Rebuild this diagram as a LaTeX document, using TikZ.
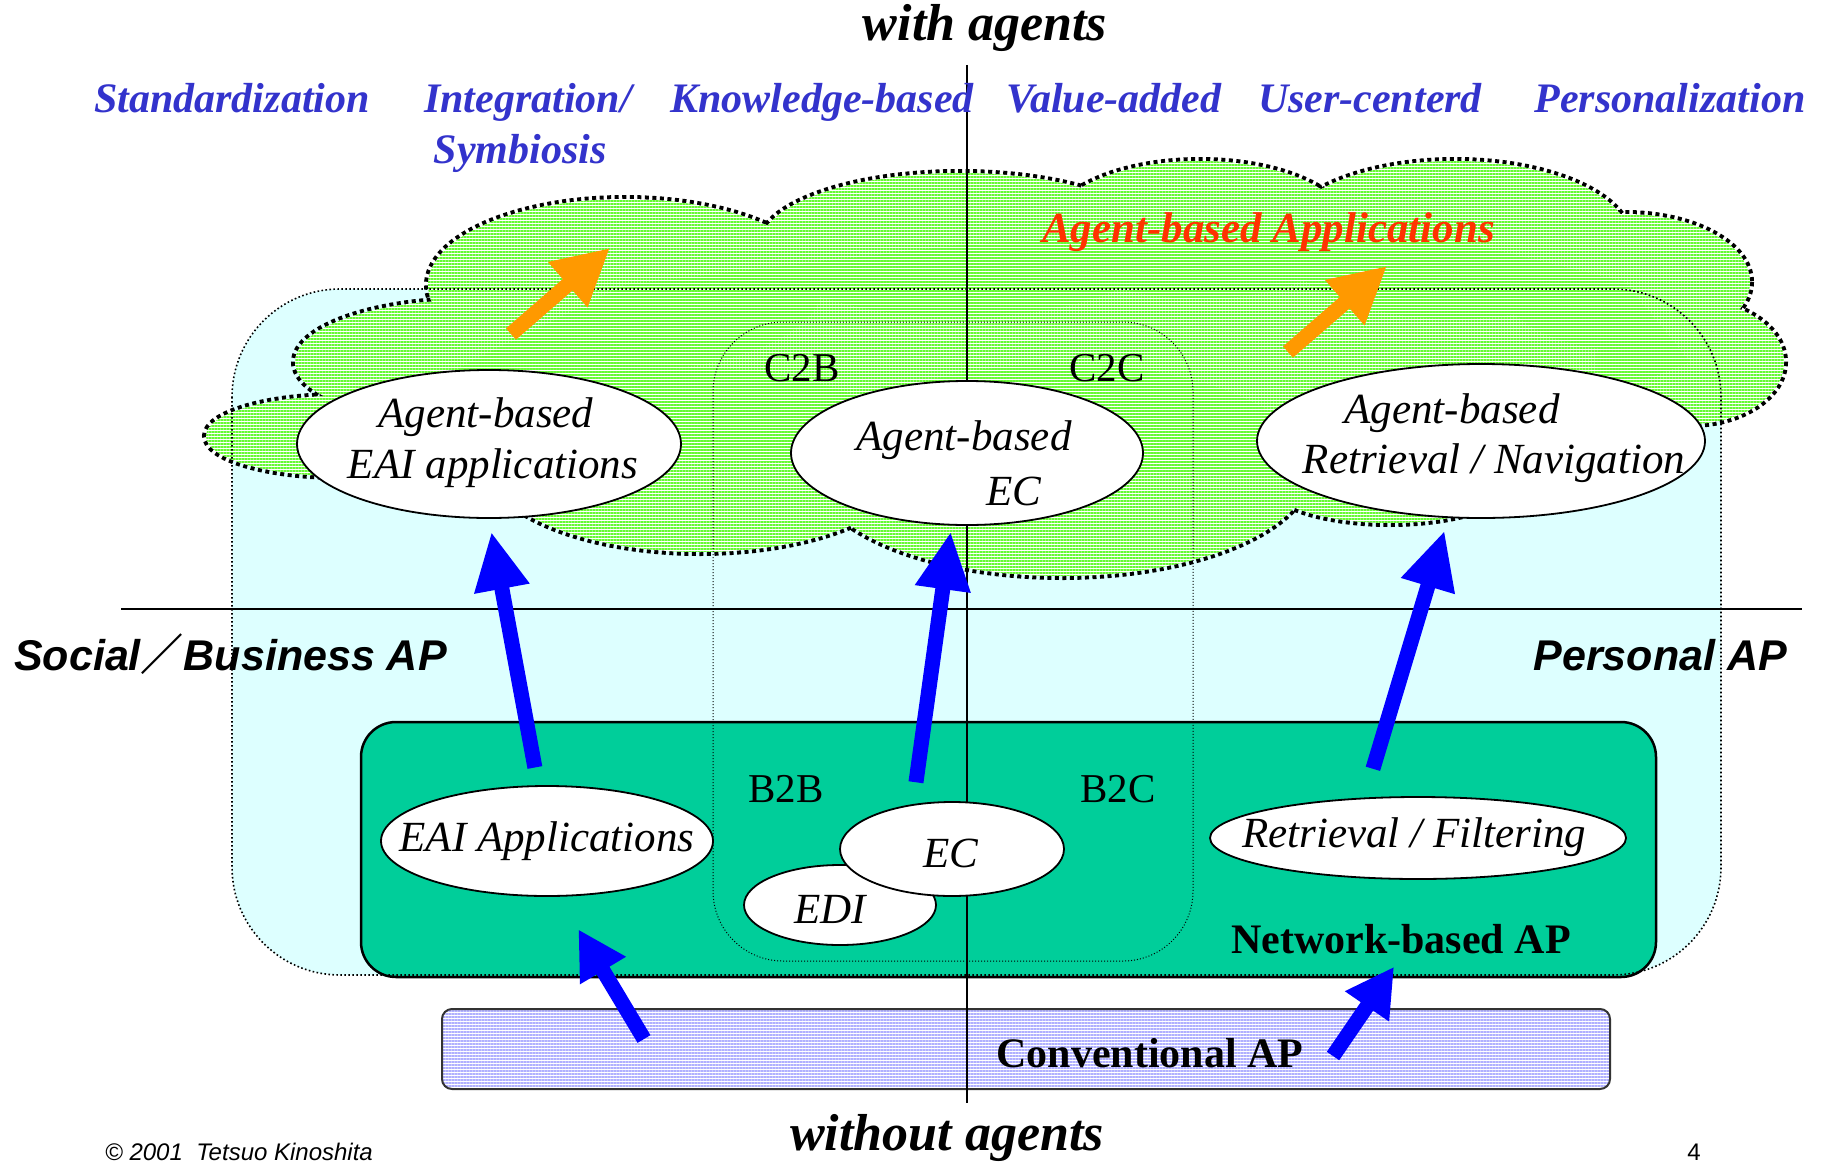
\documentclass[tikz,border=0pt]{standalone}
\usepackage{fontspec}
\setmainfont{Liberation Serif}
\setsansfont{Liberation Sans}
\newfontfamily\cjk{Noto Sans CJK JP}
\usepackage{xcolor}
\usepackage{tikz}
\usetikzlibrary{arrows.meta}
\usetikzlibrary{patterns.meta}
\usetikzlibrary{shapes.geometric}

\definecolor{cyanbg}{RGB}{221,255,255}
\definecolor{netgreen}{RGB}{0,206,154}
\definecolor{lblblue}{RGB}{51,51,204}
\definecolor{redtxt}{RGB}{255,51,0}
\definecolor{orng}{RGB}{255,153,0}
\definecolor{cloudgreen}{RGB}{102,250,51}
\definecolor{convblue}{RGB}{176,176,255}

\begin{document}
\begin{tikzpicture}[
  x=1pt, y=-1pt,
  lobeline/.style={line width=8pt, dash pattern=on 4pt off 3.5pt},
  lobelines/.style={pattern={Lines[distance=3pt,line width=1.2pt]}, pattern color=cloudgreen},
  regline/.style={line width=1.6pt, dash pattern=on 1.6pt off 2.4pt},
  bizline/.style={line width=1pt, dash pattern=on 1pt off 2pt},
  axis/.style={line width=1.4pt},
  oval/.style={ellipse, draw, fill=white, line width=1.8pt, inner sep=0pt},
  ovtxt/.style={anchor=base, inner sep=0pt, font=\fontsize{43}{50}\selectfont\itshape},
  toplbl/.style={anchor=base, inner sep=0pt, text=lblblue, font=\fontsize{42}{50}\selectfont\bfseries\itshape},
  axlbl/.style={anchor=base, inner sep=0pt, font=\fontsize{52}{60}\selectfont\bfseries\itshape},
  sidelbl/.style={inner sep=0pt, font=\fontsize{43}{50}\selectfont\sffamily\bfseries\itshape},
  bizlbl/.style={anchor=base, inner sep=0pt, font=\fontsize{41}{50}\selectfont},
  boxlbl/.style={anchor=base, inner sep=0pt, font=\fontsize{42}{50}\selectfont\bfseries},
  convbox/.style={draw=black!80, line width=2pt, rounded corners=10pt, inner sep=0pt,
    preaction={fill=white}, preaction={pattern={Lines[distance=3pt,line width=1.1pt]}, pattern color=convblue}},
  bluarr/.style={draw=blue, line width=15pt, -{Triangle[width=52pt,length=58pt]}},
  bluarrs/.style={draw=blue, line width=15pt, -{Triangle[width=50pt,length=48pt]}},
  orgarr/.style={draw=orng, line width=15pt, -{Triangle[width=56pt,length=56pt]}}
]
\useasboundingbox (0,0) rectangle (1825,1164);

% application region
\fill[cyanbg, rounded corners=108pt] (232,289) rectangle (1721,975);

% cloud of agent-based applications
\path[save path=\cloudp]
  (340,436) ellipse [x radius=134, y radius=40]
  (470,362) ellipse [x radius=175, y radius=62]
  (625,285) ellipse [x radius=197, y radius=86]
  (960,245) ellipse [x radius=200, y radius=72]
  (1200,230) ellipse [x radius=150, y radius=69]
  (1455,240) ellipse [x radius=175, y radius=79]
  (1625,282) ellipse [x radius=125, y radius=68]
  (1690,362) ellipse [x radius=94, y radius=62]
  (1390,480) ellipse [x radius=125, y radius=43]
  (1062,470) ellipse [x radius=248, y radius=106]
  (700,460) ellipse [x radius=215, y radius=92];
\path[save path=\cloudcore] (340,436) -- (470,362) -- (625,285) -- (960,245) -- (1200,230)
  -- (1455,240) -- (1625,282) -- (1690,362) -- (1390,480) -- (1062,470) -- (700,460) -- cycle;
\draw[lobeline, use path=\cloudp];
\fill[white, use path=\cloudcore];
\fill[white, use path=\cloudp];
\path[lobelines, use path=\cloudcore];
\path[lobelines, use path=\cloudp];

\node[draw, line width=2.5pt, fill=netgreen, rounded corners=35pt, inner sep=0pt,
  minimum width=1295pt, minimum height=255pt] (netbox) at (1008.5,849.5) {};

\draw[regline, rounded corners=108pt] (232,289) rectangle (1721,975);
\draw[bizline, rounded corners=70pt] (713,322) rectangle (1193,961);

\node[convbox, minimum width=1168pt, minimum height=80pt] (conv) at (1026,1049) {};

% axes
\coordinate (vtop) at (967,65);
\coordinate (vbot) at (967,1103);
\coordinate (hleft) at (121,609);
\coordinate (hright) at (1802,609);
\draw[axis] (vtop) -- (vbot);
\draw[axis] (hleft) -- (hright);

% applications
\node[oval, minimum width=384pt, minimum height=148pt] (abeai) at (489,444) {};
\node[oval, minimum width=352pt, minimum height=144pt] (abec) at (967,453) {};
\node[oval, minimum width=448pt, minimum height=154pt] (abrn) at (1481,441) {};
\node[oval, minimum width=332pt, minimum height=110pt] (eaiapp) at (547,841) {};
\node[oval, minimum width=192pt, minimum height=80pt] (edi) at (840,905) {};
\node[oval, minimum width=224pt, minimum height=94pt] (ec) at (952,849) {};
\node[oval, minimum width=416pt, minimum height=82pt] (rf) at (1418,838) {};

\node[ovtxt] (abeai1) at (486,427) {Agent-based};
\node[ovtxt] (abeai2) at (493,478) {EAI applications};
\node[ovtxt] (abec1) at (964,450) {Agent-based};
\node[ovtxt] (abec2) at (1014,505) {EC};
\node[ovtxt] (abrn1) at (1452,423) {Agent-based};
\node[ovtxt] (abrn2) at (1494,473) {Retrieval / Navigation};
\node[ovtxt] (eaiapp1) at (547,851) {EAI Applications};
\node[ovtxt] (ec1) at (951,867) {EC};
\node[ovtxt] (edi1) at (830,923) {EDI};
\node[ovtxt] (rf1) at (1414,847) {Retrieval / Filtering};

\node[bizlbl] (c2b) at (802,381) {C2B};
\node[bizlbl] (c2c) at (1107,381) {C2C};
\node[bizlbl] (b2b) at (786,802) {B2B};
\node[bizlbl] (b2c) at (1118,802) {B2C};

% labels
\node[axlbl] (withag) at (985,41) {with agents};
\node[axlbl] (withoutag) at (947,1150) {without agents};
\node[toplbl] (std) at (232,112) {Standardization};
\node[toplbl] (intg) at (528,112) {Integration/};
\node[toplbl] (symb) at (520,163) {Symbiosis};
\node[toplbl] (know) at (822,112) {Knowledge-based};
\node[toplbl] (vadd) at (1114,112) {Value-added};
\node[toplbl] (user) at (1370,112) {User-centerd};
\node[toplbl] (pers) at (1670,112) {Personalization};
\node[anchor=base west, inner sep=0pt, text=redtxt, font=\fontsize{43}{50}\selectfont\bfseries\itshape]
  (abapps) at (1042,242) {Agent-based Applications};
\node[sidelbl, anchor=base west] (social) at (14,670) {Social{\cjk ／}Business AP};
\node[sidelbl, anchor=base east] (personal) at (1787,670) {Personal AP};
\node[boxlbl] (netlbl) at (1401,953) {Network-based AP};
\node[boxlbl] (convlbl) at (1150,1067) {Conventional AP};
\node[anchor=base west, inner sep=0pt, font=\fontsize{24}{28}\selectfont\sffamily\itshape]
  (copy) at (105,1160) {\copyright\ 2001\ \ Tetsuo Kinoshita};
\node[anchor=base, inner sep=0pt, font=\fontsize{24}{28}\selectfont\sffamily] (pageno) at (1694,1160) {4};

% arrows
\draw[bluarr, shorten <=18pt, shorten >=13pt] (eaiapp.99) -- (abeai.south);
\draw[bluarr, shorten <=22pt, shorten >=6pt] (ec.131) -- (abec.258);
\draw[bluarr, shorten <=30pt, shorten >=13pt] (rf.143.5) -- (abrn.247.8);
\coordinate (cvl) at (644,1039);
\coordinate (cvr) at (1333,1056);
\draw[bluarrs, shorten >=38pt] (cvl) -- (eaiapp.282);
\draw[bluarrs, shorten >=106pt] (cvr) -- (rf.311.8);
\coordinate (orl1) at (511,334);
\coordinate (orl2) at (610,248);
\coordinate (orr1) at (1288,352);
\coordinate (orr2) at (1387,266);
\draw[orgarr] (orl1) -- (orl2);
\draw[orgarr] (orr1) -- (orr2);

\end{tikzpicture}
\end{document}
